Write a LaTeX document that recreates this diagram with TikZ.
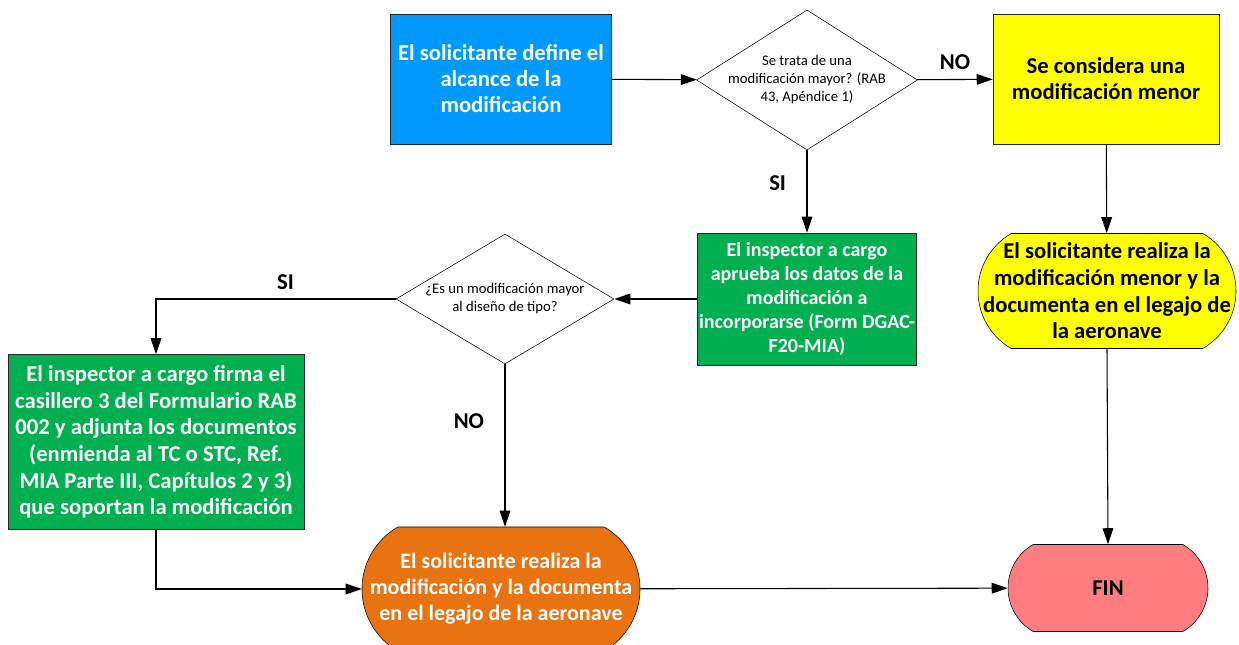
\documentclass[tikz,border=0pt]{standalone}
\usepackage{fontspec}
\setmainfont{Carlito}
\usetikzlibrary{shapes.geometric,shapes.misc,arrows.meta}

\definecolor{boxblue}{RGB}{0,153,255}
\definecolor{boxgreen}{RGB}{0,176,80}
\definecolor{boxyellow}{RGB}{255,255,0}
\definecolor{boxorange}{RGB}{233,115,17}
\definecolor{boxpink}{RGB}{255,124,128}

\tikzset{
  proc/.style={draw=black!85, rectangle, align=center, inner sep=1pt,
               font=\fontsize{17}{19.5}\selectfont\bfseries},
  decis/.style={draw, diamond, inner sep=0pt},
  decistext/.style={align=center, inner sep=0pt, font=\fontsize{11}{13.5}\selectfont},
  term/.style={draw, rounded rectangle, rounded rectangle arc length=120, inner sep=0pt},
  termtext/.style={align=center, inner sep=0pt, font=\fontsize{17}{20}\selectfont\bfseries},
  conn/.style={black, line width=0.8pt, -{Triangle[length=12pt,width=8pt]}},
  lbl/.style={font=\fontsize{17}{19}\selectfont\bfseries}
}

\begin{document}
\begin{tikzpicture}[x=0.75pt, y=-0.75pt]
    \useasboundingbox (0,0) rectangle (1239,645);

    \node [proc] [fill=boxblue, text=white] [minimum width=165.75pt, minimum height=97.5pt] (start) at (501,79)
          {El solicitante define el\\ alcance de la\\ modificación};
    \node [decis] [minimum width=165.75pt, minimum height=105pt] (qmayor) at (807,80)
          [label={[decistext]center:{Se trata de una\\ modificación mayor? (RAB\\ 43, Apéndice 1)}}] {};
    \node [proc] [fill=boxyellow] [minimum width=169.5pt, minimum height=97.5pt] (menor) at (1106,79)
          {Se considera una\\ modificación menor};
    \node [term] [fill=boxyellow] [minimum width=193.5pt, minimum height=86.25pt] (menordoc) at (1107,291)
          [label={[termtext]center:{El solicitante realiza la\\ modificación menor y la\\ documenta en el legajo de\\ la aeronave}}] {};
    \node [proc] [fill=boxgreen, text=white] [minimum width=163.5pt, minimum height=99pt]
          [font=\fontsize{15}{18}\selectfont\bfseries] (aprueba) at (807,299)
          {El inspector a cargo\\ aprueba los datos de la\\ modificación a\\ incorporarse (Form DGAC-\\ F20-MIA)};
    \node [decis] [minimum width=163.5pt, minimum height=97.5pt] (qtipo) at (505,299)
          [label={[decistext]center:{¿Es un modificación mayor\\ al diseño de tipo?}}] {};
    \node [proc] [fill=boxgreen, text=white] [minimum width=222pt, minimum height=131.25pt]
          [font=\fontsize{17}{20}\selectfont\bfseries] (firma) at (156,442)
          {El inspector a cargo firma el\\ casillero 3 del Formulario RAB\\ 002 y adjunta los documentos\\ (enmienda al TC o STC, Ref.\\ MIA Parte III, Capítulos 2 y 3)\\ que soportan la modificación};
    \node [term] [fill=boxorange] [minimum width=208.5pt, minimum height=93pt] (mayordoc) at (501,589)
          [label={[termtext, text=white, font=\fontsize{16.5}{19.5}\selectfont\bfseries]center:{El solicitante realiza la\\ modificación y la documenta\\ en el legajo de la aeronave}}] {};
    \node [term] [fill=boxpink] [minimum width=150pt, minimum height=65.25pt] (fin) at (1108,588)
          [label={[termtext]center:FIN}] {};

    \draw [conn] (start)    -- (qmayor);
    \draw [conn] (qmayor)   -- node [lbl, above=4pt] {NO} (menor);
    \draw [conn] (qmayor)   -- node [lbl, left=12pt, pos=0.4] {SI} (aprueba);
    \draw [conn] (menor)    -- (menordoc);
    \draw [conn] (menordoc.south) -- (fin.north);
    \draw [conn] (aprueba)  -- (qtipo);
    \draw [conn] (qtipo.west) -| node [lbl, above=3pt, pos=0.23] {SI} (firma.north);
    \draw [conn] (qtipo.south) -- node [lbl, left=12pt, pos=0.35] {NO} (qtipo.south |- mayordoc.north);
    \draw [conn] (firma.south) |- (mayordoc.west);
    \draw [conn] (mayordoc) -- (fin);
\end{tikzpicture}
\end{document}
